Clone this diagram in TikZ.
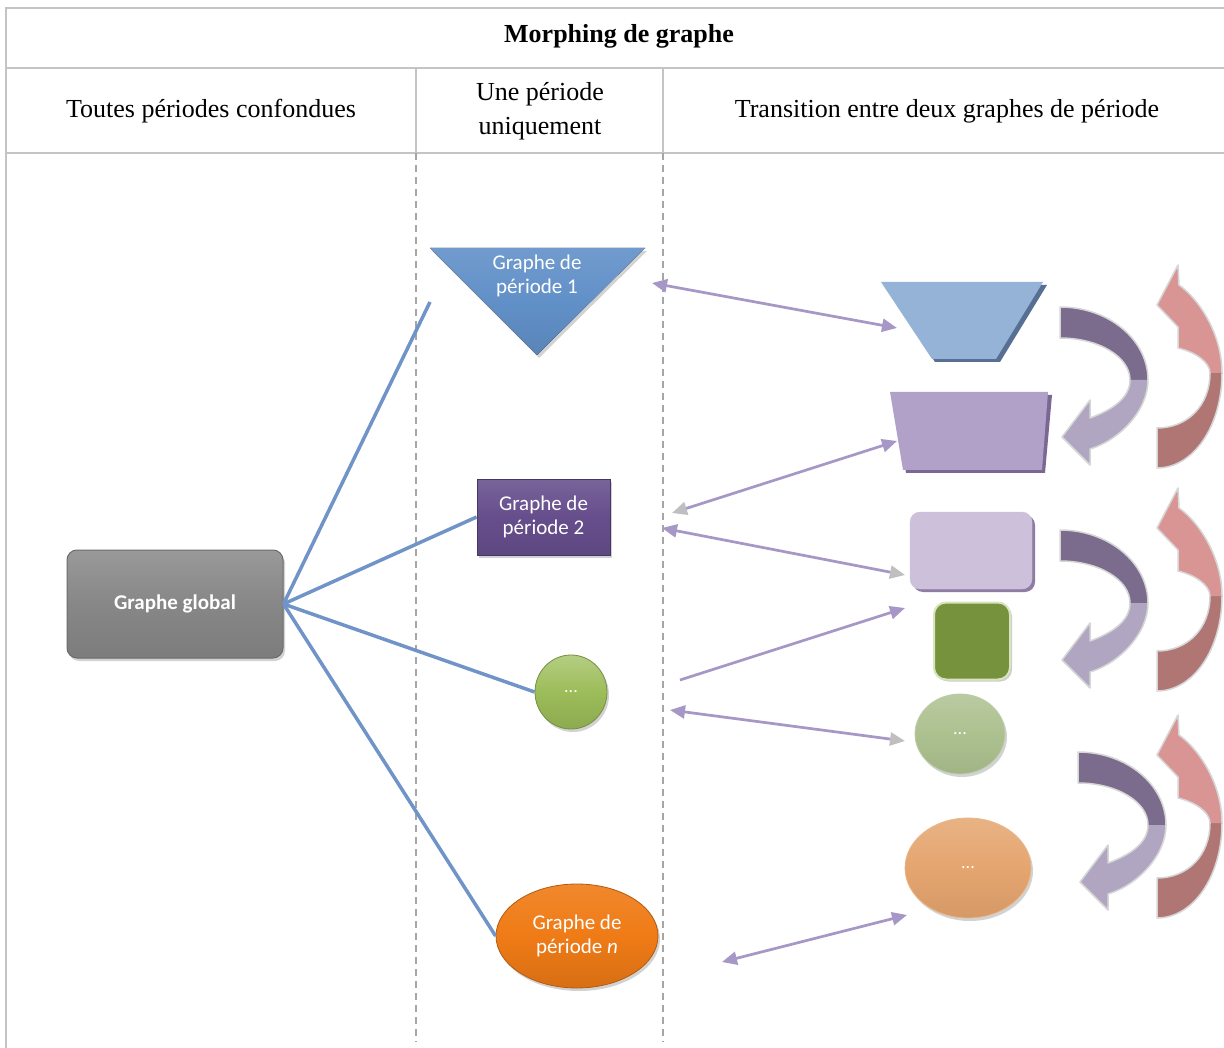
\documentclass[tikz,border=0pt]{standalone}
\usepackage{fontspec}
\setmainfont{Liberation Serif}
\newfontfamily\calib{Carlito}
\usetikzlibrary{shadows,arrows.meta,shapes.geometric}
\definecolor{tblgray}{HTML}{C4C4C4}
\definecolor{dashgray}{HTML}{A6A6A6}
\definecolor{linkblue}{HTML}{7094C8}
\definecolor{arrpurple}{HTML}{A797C6}
\definecolor{arrgrey}{HTML}{BFBFBF}
\definecolor{ggray}{HTML}{878787}
\definecolor{triblue}{HTML}{6190C8}
\definecolor{p2purple}{HTML}{664E8C}
\definecolor{ggreen}{HTML}{9CBD59}
\definecolor{gorange}{HTML}{EF7B16}
\definecolor{trapblue}{HTML}{95B3D7}
\definecolor{trapbluesh}{HTML}{566F92}
\definecolor{trappur}{HTML}{B1A0C7}
\definecolor{trappursh}{HTML}{7A6893}
\definecolor{lav}{HTML}{CCC0DA}
\definecolor{lavsh}{HTML}{8E7CA4}
\definecolor{dgreen}{HTML}{76923C}
\definecolor{lgreenb}{HTML}{D7E4BD}
\definecolor{sage}{HTML}{ADC190}
\definecolor{peach}{HTML}{E5A56F}
\definecolor{cdark}{HTML}{7B6C8E}
\definecolor{clight}{HTML}{B1A6C2}
\definecolor{rlight}{HTML}{D99594}
\definecolor{rdark}{HTML}{B07674}
\definecolor{coutl}{HTML}{D6D6D6}
\newcommand\purplearc[1]{%
\begin{scope}[shift={#1}]
\fill[cdark] (1060,307) .. controls (1108.6,307) and (1148,339.7) .. (1148,380) -- (1130,380) .. controls (1130,356.8) and (1098.7,338) .. (1060,338) -- cycle;
\fill[clight] (1148,380) .. controls (1148,410) and (1120,440) .. (1090,449) -- (1090,465) -- (1062,437) -- (1090,400) -- (1090,418) .. controls (1112,410) and (1130,398) .. (1130,380) -- cycle;
\draw[coutl,line width=1.5pt,line join=round] (1060,307) .. controls (1108.6,307) and (1148,339.7) .. (1148,380) .. controls (1148,410) and (1120,440) .. (1090,449) -- (1090,465) -- (1062,437) -- (1090,400) -- (1090,418) .. controls (1112,410) and (1130,398) .. (1130,380) .. controls (1130,356.8) and (1098.7,338) .. (1060,338) -- cycle;
\end{scope}}
\newcommand\redarc[1]{%
\begin{scope}[shift={#1}]
\fill[rdark] (1157,468) .. controls (1194,468) and (1222,425) .. (1222,373) -- (1210,373) .. controls (1210,405) and (1188,428) .. (1157,428) -- cycle;
\fill[rlight] (1222,373) .. controls (1222,335) and (1200,300) .. (1179,285) -- (1178,265) -- (1157,305) -- (1178,327) -- (1178,348) .. controls (1195,352) and (1210,362) .. (1210,373) -- cycle;
\draw[coutl,line width=1.5pt,line join=round] (1157,468) .. controls (1194,468) and (1222,425) .. (1222,373) .. controls (1222,335) and (1200,300) .. (1179,285) -- (1178,265) -- (1157,305) -- (1178,327) -- (1178,348) .. controls (1195,352) and (1210,362) .. (1210,373) .. controls (1210,405) and (1188,428) .. (1157,428) -- cycle;
\end{scope}}
\begin{document}
\begin{tikzpicture}[x=1pt,y=-1pt,
  tbl/.style={draw=tblgray,line width=2pt},
  sep/.style={draw=dashgray,line width=1.3pt,dash pattern=on 7pt off 5pt},
  link/.style={draw=linkblue,line width=3.5pt},
  conn/.style={draw=arrpurple,line width=2.7pt},
  ptip/.tip={Triangle[length=15pt,width=13pt,color=arrpurple]},
  gtip/.tip={Triangle[length=15pt,width=13pt,color=arrgrey]},
  head/.style={font=\fontsize{26}{34}\selectfont,align=center,inner sep=0pt},
  lbl/.style={font=\calib\fontsize{21}{24}\selectfont,text=white,align=center,inner sep=0pt},
  dots/.style={font=\calib\fontsize{18}{20}\selectfont,text=white,inner sep=0pt},
  shad/.style={drop shadow={opacity=0.35,shadow xshift=2pt,shadow yshift=-3pt}}]
\useasboundingbox (0,0) rectangle (1224,1048);
\fill[white] (0,0) rectangle (1224,1048);
% table
\draw[tbl] (6,8) -- (1224,8);
\draw[tbl] (6,68) -- (1224,68);
\draw[tbl] (6,153) -- (1224,153);
\draw[tbl] (6,7) -- (6,1048);
\draw[tbl] (416,68) -- (416,153);
\draw[tbl] (663,68) -- (663,153);
\draw[sep] (416,153) -- (416,1042);
\draw[sep] (663,153) -- (663,1042);
\node[head,font=\bfseries\fontsize{26}{30}\selectfont] (title) at (619,36) {Morphing de graphe};
\node[head] (h1) at (211,111) {Toutes périodes confondues};
\node[head] (h2) at (540,111) {Une période\\uniquement};
\node[head] (h3) at (947,111) {Transition entre deux graphes de période};
% left shapes
\node[shad,rounded corners=10pt,top color=ggray!85!white,bottom color=ggray!92!black,middle color=ggray,draw=ggray!80!black,line width=1pt,minimum width=216pt,minimum height=108pt,inner sep=0pt,font=\calib\bfseries\fontsize{21}{24}\selectfont,text=white] (gg) at (175,604) {Graphe global};
\fill[shad,top color=triblue!90!white,bottom color=triblue!92!black,middle color=triblue] (430,248) -- (645,248) -- (537,355) -- cycle;
\node[lbl] (p1) at (537,276) {Graphe de\\période 1};
\coordinate (t1) at (430,302);
\node[shad,top color=p2purple!88!white,bottom color=p2purple!92!black,middle color=p2purple,draw=p2purple!70!black,line width=0.8pt,minimum width=133pt,minimum height=76pt,inner sep=0pt,lbl] (p2) at (543.5,517) {Graphe de\\période 2};
\node[shad,ellipse,top color=ggreen!75!white,bottom color=ggreen!90!black,middle color=ggreen,draw=ggreen!75!black,line width=0.8pt,minimum width=72pt,minimum height=74pt,inner sep=0pt,dots] (c1) at (571,692) {...};
\node[shad,ellipse,top color=gorange!90!white,bottom color=gorange!90!black,middle color=gorange,draw=gorange!75!black,line width=0.8pt,minimum width=162pt,minimum height=104pt,inner sep=0pt,lbl] (pn) at (577,936) {Graphe de\\période \textit{n}};
\draw[link] (gg.east) -- (t1);
\draw[link] (gg.east) -- (p2.west);
\draw[link] (gg.east) -- (c1.west);
\draw[link] (gg.east) -- (pn.west);
% right shapes
\fill[trapbluesh] (884,285) -- (1047,285) -- (1000,362) -- (935,362) -- cycle;
\fill[trapblue] (881,282) -- (1043,282) -- (996,359) -- (932,359) -- cycle;
\node[inner sep=0pt] (r1) at (962,320) {};
\fill[trappursh] (893,395) -- (1052,395) -- (1045,473) -- (906,473) -- cycle;
\fill[trappur] (890,392) -- (1048,392) -- (1042,470) -- (903,470) -- cycle;
\node[inner sep=0pt] (r2) at (969,431) {};
\node[rounded corners=10pt,fill=lav,draw=lav!90!white,minimum width=122pt,minimum height=77pt,drop shadow={fill=lavsh,opacity=1,shadow xshift=3pt,shadow yshift=-3pt}] (r3) at (971,550.5) {};
\node[rounded corners=12pt,fill=dgreen,draw=lgreenb,line width=2pt,minimum width=76pt,minimum height=77pt,drop shadow={opacity=0.4,shadow xshift=2pt,shadow yshift=-2pt}] (r4) at (972,641) {};
\node[shad,ellipse,top color=sage!85!white,bottom color=sage!93!black,middle color=sage,draw=sage!80!white,line width=0.8pt,minimum width=90pt,minimum height=80pt,inner sep=0pt,dots] (r5) at (960,734) {...};
\node[shad,ellipse,top color=peach!85!white,bottom color=peach!93!black,middle color=peach,draw=peach!80!white,line width=0.8pt,minimum width=126pt,minimum height=100pt,inner sep=0pt,dots] (r6) at (968,868) {...};
% curved arrows
\purplearc{(0,0)}
\purplearc{(0,223)}
\purplearc{(18,445)}
\redarc{(0,0)}
\redarc{(0,223)}
\redarc{(0,450)}
% connectors
\coordinate (a1l) at (652,283); \coordinate (a1r) at (897,328);
\coordinate (a2l) at (672,513); \coordinate (a2r) at (897,441);
\coordinate (a3l) at (662,528); \coordinate (a3r) at (905,575);
\coordinate (a4l) at (680,680); \coordinate (a4r) at (905,608);
\coordinate (a5l) at (670,710); \coordinate (a5r) at (905,741);
\coordinate (a6l) at (722,962); \coordinate (a6r) at (907,915);
\draw[conn,{ptip}-{ptip}] (a1l) -- (a1r);
\draw[conn,{gtip}-{ptip}] (a2l) -- (a2r);
\draw[conn,{ptip}-{gtip}] (a3l) -- (a3r);
\draw[conn,-{ptip}] (a4l) -- (a4r);
\draw[conn,{ptip}-{gtip}] (a5l) -- (a5r);
\draw[conn,{ptip}-{ptip}] (a6l) -- (a6r);
\end{tikzpicture}
\end{document}
